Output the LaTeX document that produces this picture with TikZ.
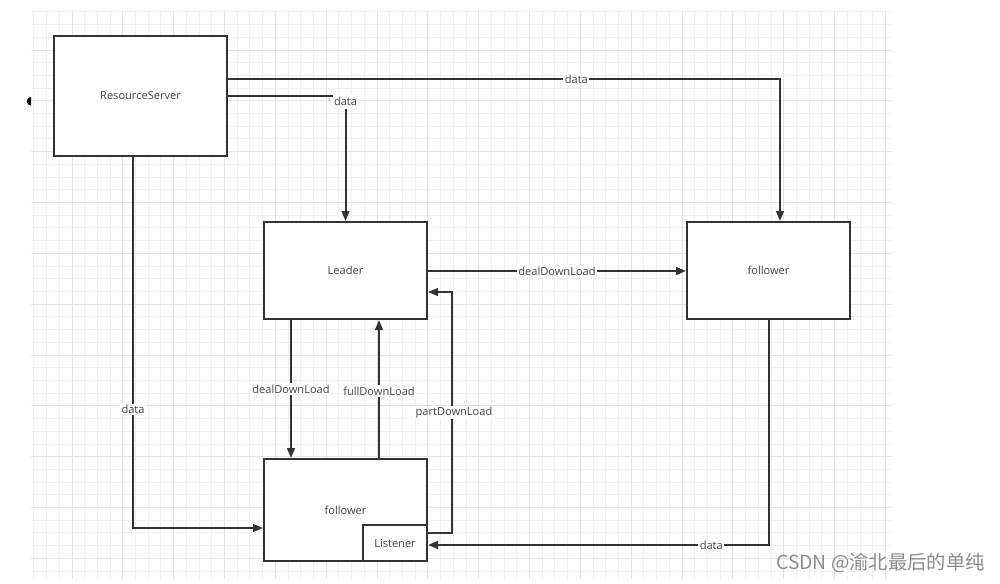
\documentclass[tikz,border=0pt]{standalone}
\usepackage{fontspec}
\setmainfont{Open Sans}
\newfontfamily\cjkfont{Noto Sans CJK SC}
\usetikzlibrary{arrows.meta}
\definecolor{gridminor}{HTML}{F1F1F1}
\definecolor{gridmajor}{HTML}{E4E4E4}
\definecolor{ink}{HTML}{333333}
\definecolor{txt}{HTML}{444444}
\definecolor{mark}{HTML}{8C8C8C}
\tikzset{
  box/.style={draw=ink, line width=1.5pt, fill=white, inner sep=0pt,
              text=txt, font=\fontsize{8.3}{10}\selectfont},
  conn/.style={draw=ink, line width=1.5pt,
               -{Triangle[length=7.5pt,width=5.8pt]}},
  lbl/.style={fill=white, inner sep=1pt, text=txt,
              font=\fontsize{8.3}{10}\selectfont},
  minorline/.style={draw=gridminor, line width=0.75pt},
  majorline/.style={draw=gridmajor, line width=0.75pt},
}
\begin{document}
\begin{tikzpicture}[x=0.75pt,y=-0.75pt]
\useasboundingbox (0,0) rectangle (1000,583);
\fill[white] (0,0) rectangle (1000,583);

% background grid: 12.71px cells, every fourth line darker
\begin{scope}
  \clip (31,11.5) rectangle (891,578);
  \foreach \i in {-4,...,65} \draw[minorline] (72+\i*12.71,0) -- (72+\i*12.71,583);
  \foreach \j in {-4,...,42} \draw[minorline] (0,50+\j*12.71) -- (1000,50+\j*12.71);
  \foreach \i in {-4,0,...,64} \draw[majorline] (72+\i*12.71,0) -- (72+\i*12.71,583);
  \foreach \j in {-4,0,...,40} \draw[majorline] (0,50+\j*12.71) -- (1000,50+\j*12.71);
\end{scope}

% small marker left of the server
\fill[black] (31,97) arc[start angle=90, end angle=270, radius=3.2pt] -- cycle;

% boxes
\node[box, minimum width=173*0.75pt, minimum height=120*0.75pt] (RS) at (140.5,96) {ResourceServer};
\node[box, minimum width=163*0.75pt, minimum height=97*0.75pt] (Leader) at (345.5,270.5) {Leader};
\node[box, minimum width=163*0.75pt, minimum height=97*0.75pt] (F1) at (768.5,270.5) {follower};
\node[box, minimum width=163*0.75pt, minimum height=102*0.75pt] (F2) at (345.5,510) {follower};
\node[box, minimum width=64*0.75pt, minimum height=36*0.75pt] (Lis) at (395,543) {Listener};

% connectors
\draw[conn] (RS.east |- 0,79) -| (F1.north -| 780,0)
  node[lbl, pos=0.3155] {data};
\draw[conn] (RS.east |- 0,96) -| (Leader.north)
  node[lbl, pos=0.5, yshift=-4pt, minimum height=12pt] {data};
\draw[conn] (RS.south -| 133,0) |- (F2.west |- 0,528)
  node[lbl, pos=0.34] {data};
\draw[conn] (Leader.east |- 0,271) -- (F1.west |- 0,271)
  node[lbl, midway] {dealDownLoad};
\draw[conn] (Leader.south -| 291,0) -- (F2.north -| 291,0)
  node[lbl, pos=0.5] {dealDownLoad};
\draw[conn] (F2.north -| 379,0) -- (Leader.south -| 379,0)
  node[lbl, pos=0.486] {fullDownLoad};
\coordinate (pb) at (452,533);
\coordinate (pt) at (452,292);
\draw[conn] (Lis.east |- pb) -- (pb) -- node[lbl, pos=0.5, xshift=1.5pt] {partDownLoad} (pt) -- (Leader.east |- pt);
\draw[conn] (F1.south) |- (Lis.east |- 0,545)
  node[lbl, pos=0.584] {data};

% watermark
\node[anchor=east, text=mark, inner sep=0pt, font=\cjkfont\fontsize{14.5}{16}\selectfont] (wm) at (985,563) {CSDN @渝北最后的单纯};
\end{tikzpicture}
\end{document}
